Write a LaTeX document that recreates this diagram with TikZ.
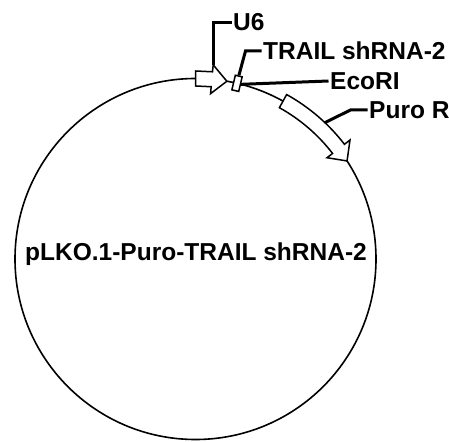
\documentclass[tikz,border=0pt]{standalone}
\usepackage{fontspec}
\setmainfont{Liberation Sans}

\begin{document}
\begin{tikzpicture}[x=1pt,y=1pt,
	lbl/.style={anchor=west,inner sep=1.5pt,font=\bfseries\fontsize{24.5}{29}\selectfont},
	lead/.style={line width=3pt},
	feat/.style={draw,fill=white,line width=1.5pt}]
	\useasboundingbox (-195.5,-182) rectangle (253.5,259);
	\draw [line width=1.6pt](0,0) circle (180.5);
	% features on the ring
	\draw [feat](90:173)--(84.8:173)--(84.8:166)--(80:180.5)--(84.8:195)--(84.8:188)--(90:188)--cycle;
	\coordinate (u6h) at (84.8:195);
	\node (sh) at (76.7:180.5)[feat,rotate=-13.3,minimum width=7,minimum height=15,inner sep=0] {};
	\draw [feat](61:173) arc[start angle=61,end angle=37.6,radius=173]--(37.6:166)--(32.9:180.5)--(37.6:195)--(37.6:188) arc[start angle=37.6,end angle=61,radius=188]--cycle;
	\coordinate (pr) at (46.5:188);
	% labels
	\node (U6) at (36,236.5)[lbl] {U6};
	\node (T) at (66,208)[lbl] {TRAIL shRNA-2};
	\node (E) at (133,178)[lbl] {EcoRI};
	\node (R) at (172,149)[lbl] {Puro R};
	\node (M) at (0.5,-2)[lbl,anchor=base] {pLKO.1-Puro-TRAIL shRNA-2};
	\draw [lead](u6h)|-(U6.west);
	\draw [lead](sh.north)--([xshift=-16pt]T.west)--(T.west);
	\draw [lead](sh.east)--(E.west);
	\draw [lead](pr)--([xshift=-17pt]R.west)--(R.west);
	
	\end{tikzpicture}
\end{document}
